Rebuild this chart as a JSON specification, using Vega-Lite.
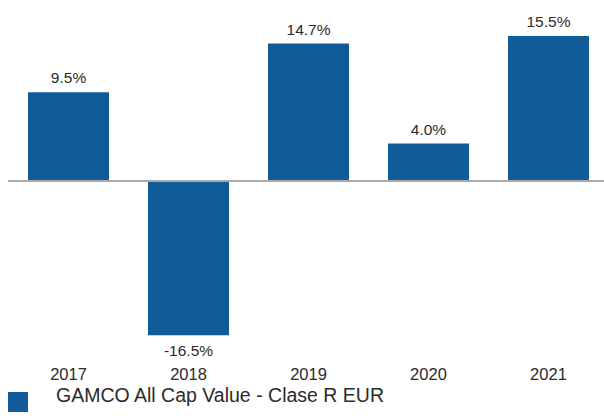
{
  "$schema": "https://vega.github.io/schema/vega-lite/v6.json",
  "width": 596,
  "height": 355,
  "autosize": {"type": "none"},
  "padding": {"left": 8, "top": 5, "right": 0, "bottom": 56},
  "background": "white",
  "config": {
    "view": {"stroke": null},
    "font": "Liberation Sans"
  },
  "data": {
    "values": [
      {"year": "2017", "v": 9.5, "label": "9.5%", "series": "GAMCO All Cap Value - Clase R EUR"},
      {"year": "2018", "v": -16.5, "label": "-16.5%", "series": "GAMCO All Cap Value - Clase R EUR"},
      {"year": "2019", "v": 14.7, "label": "14.7%", "series": "GAMCO All Cap Value - Clase R EUR"},
      {"year": "2020", "v": 4.0, "label": "4.0%", "series": "GAMCO All Cap Value - Clase R EUR"},
      {"year": "2021", "v": 15.5, "label": "15.5%", "series": "GAMCO All Cap Value - Clase R EUR"}
    ]
  },
  "encoding": {
    "x": {
      "field": "year",
      "type": "nominal",
      "scale": {"paddingInner": 0.325, "paddingOuter": 0.146, "align": 0.571},
      "axis": {
        "title": null,
        "domain": false,
        "ticks": false,
        "labelAngle": 0,
        "labelFontSize": 16.5,
        "labelColor": "#2b2b2b",
        "labelPadding": 6
      }
    },
    "y": {
      "field": "v",
      "type": "quantitative",
      "scale": {"domain": [-19.14, 18.82], "nice": false, "zero": false},
      "axis": null
    }
  },
  "layer": [
    {
      "mark": {"type": "bar"},
      "encoding": {
        "color": {
          "field": "series",
          "type": "nominal",
          "scale": {"range": ["#115b99"]},
          "legend": {
            "title": null,
            "orient": "none",
            "legendX": 0,
            "legendY": 387,
            "padding": 0,
            "symbolType": "square",
            "symbolSize": 400,
            "symbolStrokeWidth": 0,
            "labelFontSize": 19.5,
            "labelColor": "#2b2b2b",
            "labelBaseline": "alphabetic",
            "labelOffset": 28,
            "labelLimit": 500
          }
        }
      }
    },
    {
      "mark": {"type": "rule", "color": "#aaaaaa", "strokeWidth": 1.5},
      "encoding": {"y": {"datum": 0}, "x": null}
    },
    {
      "transform": [{"filter": "datum.v >= 0"}],
      "mark": {"type": "text", "baseline": "bottom", "dy": -6, "fontSize": 15.5, "color": "#2b2b2b"},
      "encoding": {"text": {"field": "label"}}
    },
    {
      "transform": [{"filter": "datum.v < 0"}],
      "mark": {"type": "text", "baseline": "top", "dy": 9, "fontSize": 15.5, "color": "#2b2b2b"},
      "encoding": {"text": {"field": "label"}}
    }
  ]
}
